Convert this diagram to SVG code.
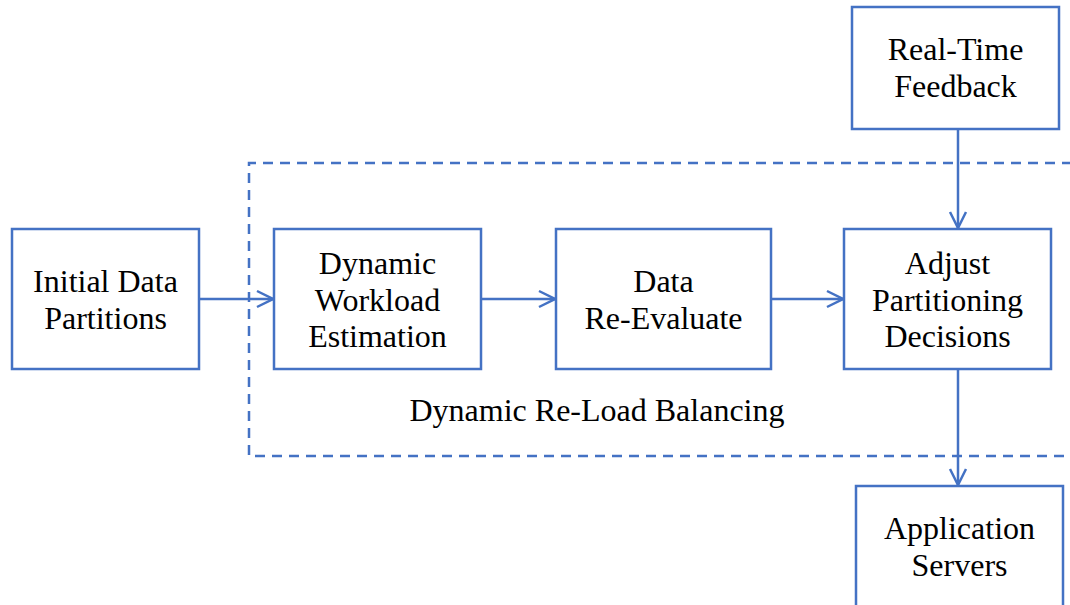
<svg xmlns="http://www.w3.org/2000/svg" width="1070" height="605" viewBox="0 0 1070 605">
<style>
.box{fill:#fff;stroke:#4472C4;stroke-width:2.5}
.t{font-family:'Liberation Serif',serif;font-size:32px;fill:#000;text-anchor:middle}
.c{fill:none;stroke:#4472C4;stroke-width:2.5}
</style>
<defs>
<marker id="ah" viewBox="0 0 20 20" refX="18" refY="10" markerWidth="20" markerHeight="20" markerUnits="userSpaceOnUse" orient="auto">
<path d="M2,2 L18,10 L2,18" fill="none" stroke="#4472C4" stroke-width="2.5"/>
</marker>
</defs>
<rect x="0" y="0" width="1070" height="605" fill="#fff"/>
<g id="group-dynamic">
<path d="M1072,163 H249 V456 H1072" fill="none" stroke="#4472C4" stroke-width="2.5" stroke-dasharray="10,7"/>
<text class="t" x="597" y="421">Dynamic Re-Load Balancing</text>
</g>
<g id="connectors">
<line class="c" x1="199" y1="299" x2="273" y2="299" marker-end="url(#ah)"/>
<line class="c" x1="481" y1="299" x2="555" y2="299" marker-end="url(#ah)"/>
<line class="c" x1="771" y1="299" x2="843" y2="299" marker-end="url(#ah)"/>
<line class="c" x1="958" y1="129" x2="958" y2="228" marker-end="url(#ah)"/>
<line class="c" x1="958" y1="369" x2="958" y2="485" marker-end="url(#ah)"/>
</g>
<g id="initial">
<rect class="box" x="12" y="229" width="187" height="140"/>
<text class="t" x="105.5" y="292">Initial Data</text>
<text class="t" x="105.5" y="329">Partitions</text>
</g>
<g id="workload">
<rect class="box" x="274" y="229" width="207" height="140"/>
<text class="t" x="377.5" y="274">Dynamic</text>
<text class="t" x="377.5" y="311">Workload</text>
<text class="t" x="377.5" y="347">Estimation</text>
</g>
<g id="reevaluate">
<rect class="box" x="556" y="229" width="215" height="140"/>
<text class="t" x="663.5" y="292">Data</text>
<text class="t" x="663.5" y="329">Re-Evaluate</text>
</g>
<g id="adjust">
<rect class="box" x="844" y="229" width="207" height="140"/>
<text class="t" x="947.5" y="274">Adjust</text>
<text class="t" x="947.5" y="311">Partitioning</text>
<text class="t" x="947.5" y="347">Decisions</text>
</g>
<g id="feedback">
<rect class="box" x="852" y="7" width="207" height="122"/>
<text class="t" x="955.5" y="60">Real-Time</text>
<text class="t" x="955.5" y="97">Feedback</text>
</g>
<g id="servers">
<rect class="box" x="856" y="486" width="207" height="130"/>
<text class="t" x="959.5" y="539">Application</text>
<text class="t" x="959.5" y="576">Servers</text>
</g>
</svg>
